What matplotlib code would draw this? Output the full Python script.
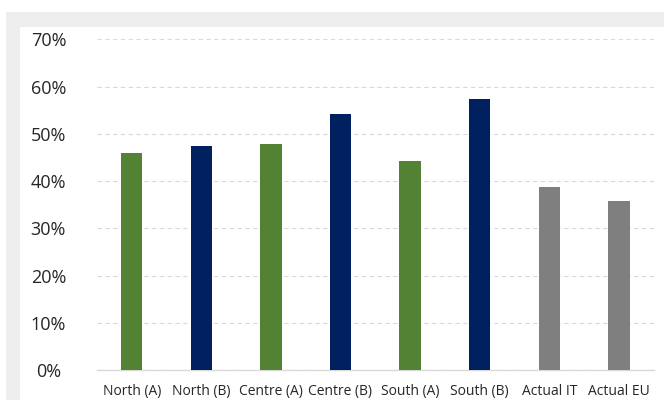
import numpy as np
import matplotlib
matplotlib.use('Agg')
import matplotlib.pyplot as plt
from matplotlib.patches import Rectangle
from matplotlib.ticker import FuncFormatter

matplotlib.rc('font', family=['Open Sans', 'DejaVu Sans'])

categories = ['North (A)', 'North (B)', 'Centre (A)', 'Centre (B)',
              'South (A)', 'South (B)', 'Actual IT', 'Actual EU']
values = [0.459, 0.475, 0.478, 0.543, 0.442, 0.573, 0.388, 0.358]
groups = ['A', 'B', 'A', 'B', 'A', 'B', 'actual', 'actual']
yticks = [0.0, 0.1, 0.2, 0.3, 0.4, 0.5, 0.6, 0.7]

colours = {'A': '#548235', 'B': '#002060', 'actual': '#7f7f7f'}

W, H = 664, 400
fig = plt.figure(figsize=(W / 100, H / 100), dpi=100)

# grey frame and white panel behind the chart
fig.patches.append(Rectangle((5.7 / W, 0), 1, 1 - 12 / H, transform=fig.transFigure,
                             facecolor='#eeeeee', edgecolor='none', zorder=-2))
fig.patches.append(Rectangle((20 / W, 0), 1, 1 - 27 / H, transform=fig.transFigure,
                             facecolor='white', edgecolor='none', zorder=-1))

ax = fig.add_axes([96.9 / W, 29.7 / H, (653.7 - 96.9) / W, (370.3 - 39.3) / H])
ax.patch.set_visible(False)

x = np.arange(len(categories))
ax.bar(x, values, width=0.31, color=[colours[g] for g in groups], zorder=3)

ax.set_xlim(-0.5, len(categories) - 0.5)
ax.set_ylim(0, 0.70)
ax.set_yticks(yticks)
ax.yaxis.set_major_formatter(FuncFormatter(lambda v, p: '{:.0f}%'.format(v * 100)))
ax.set_xticks(x)
ax.set_xticklabels(categories)

ax.grid(axis='y', color='#d9d9d9', linewidth=0.8, linestyle=(0, (4, 3)), zorder=0)
for s in ['top', 'right', 'left']:
    ax.spines[s].set_visible(False)
ax.spines['bottom'].set_color('#d9d9d9')
ax.spines['bottom'].set_linewidth(1.0)

ax.tick_params(axis='y', length=0, pad=34.9, labelsize=13, labelcolor='#262626')
ax.tick_params(axis='x', length=0, pad=10, labelsize=10, labelcolor='#262626')
for lbl in ax.get_yticklabels():
    lbl.set_horizontalalignment('center')

fig.savefig('out.png', dpi=100)
